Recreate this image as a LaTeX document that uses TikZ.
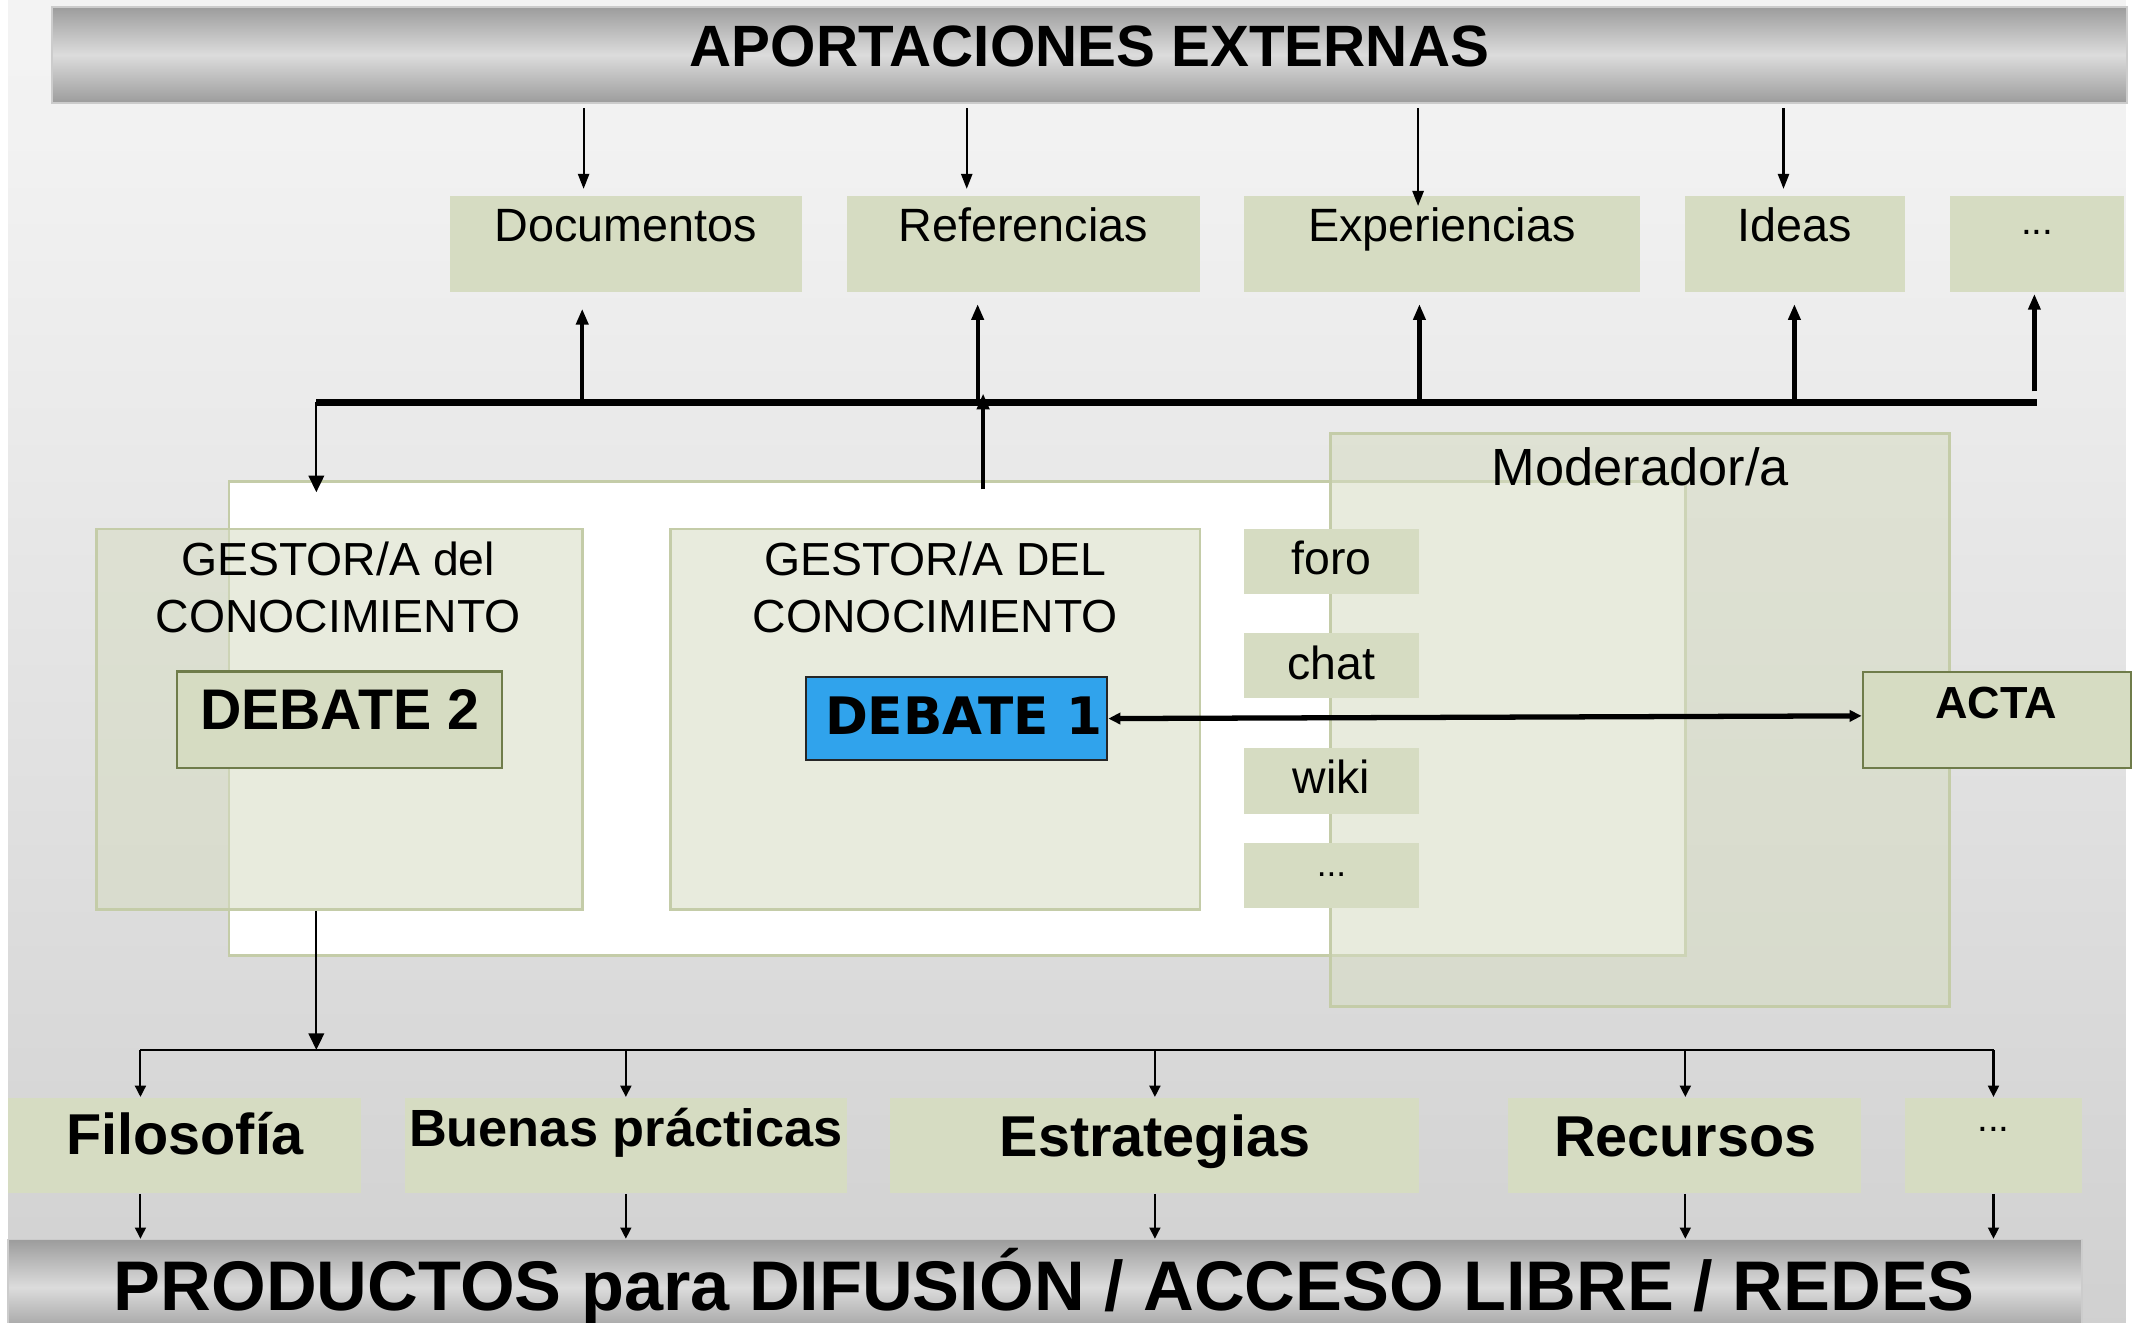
\documentclass[tikz,border=0pt]{standalone}
\usepackage{fontspec}
\setmainfont{Liberation Sans}
\newfontfamily\djv{DejaVu Sans}
\usetikzlibrary{fit,arrows.meta}
\definecolor{boxc}{HTML}{D6DCC2}
\definecolor{bordc}{HTML}{C4CCA8}
\definecolor{olivec}{HTML}{6F7C4A}
\definecolor{bluec}{HTML}{30A3EC}
\definecolor{mdark}{HTML}{5C5C5C}
\definecolor{mlight}{HTML}{DCDCDC}
\definecolor{bgA}{HTML}{F9F9F9}
\definecolor{bgB}{HTML}{F2F2F2}
\definecolor{bgC}{HTML}{E0E0E0}
\definecolor{bgD}{HTML}{CECECE}
\definecolor{bgE}{HTML}{BEBEBE}
\pgfdeclareverticalshading{metal}{100bp}{color(0bp)=(mdark); color(50bp)=(mlight); color(100bp)=(mdark)}
\pgfdeclareverticalshading{bgv}{100bp}{color(0bp)=(bgE); color(22bp)=(bgD); color(45bp)=(bgC); color(70bp)=(bgB); color(100bp)=(bgA)}
\newcommand\setfs[1]{\fontsize{#1pt}{#1pt}\selectfont}
\begin{document}
\begin{tikzpicture}[x=0.013635cm,y=-0.013635cm,
 txt/.style={inner sep=0pt,anchor=base,text=black},
 tbox/.style={fill=boxc,draw=none,inner sep=0pt},
 tlbox/.style={fill=boxc,fill opacity=0.55,draw=bordc,line width=0.8pt,inner sep=0pt},
 dbox/.style={fill=boxc,draw=olivec,line width=0.6pt,inner sep=0pt},
 bar/.style={shade,shading=metal,draw=black!20,line width=0.4pt,inner sep=0pt},
 thinarr/.style={line width=0.6pt,-{Triangle[length=4.3pt,width=3.2pt]}},
 smallarr/.style={line width=0.6pt,-{Triangle[length=3.2pt,width=3.1pt]}},
 bigarr/.style={line width=0.6pt,-{Triangle[length=4.7pt,width=4.4pt]}},
 thickarr/.style={line width=1.2pt,-{Triangle[length=4.5pt,width=3.4pt]}},
]
\useasboundingbox (0,0) rectangle (1568,970);
\clip (0,0) rectangle (1568,970);
\fill[white] (0,0) rectangle (1568,970);
\shade[shading=bgv] (6,0) rectangle (1559,970);

% bars
\node[bar, fit={(38,5) (1560,75.5)}] (topbar) {};
\node[txt] (toptxt) at (799,49) {\setfs{16.6}\bfseries APORTACIONES EXTERNAS};
\node[bar, fit={(6,909) (1527,979)}] (botbar) {};
\node[txt] (bottxt) at (766,961) {\setfs{20}\bfseries PRODUCTOS para DIFUSIÓN / ACCESO LIBRE / REDES};

% top boxes
\node[tbox, fit={(330,144) (588,214)}] (doc) {};
\node[tbox, fit={(621,144) (880,214)}] (ref) {};
\node[tbox, fit={(912,144) (1203,214)}] (exp) {};
\node[tbox, fit={(1236,144) (1397,214)}] (ideas) {};
\node[tbox, fit={(1430,144) (1558,214)}] (tdots) {};
\node[txt] (doct) at (459,177) {\setfs{13.3}Documentos};
\node[txt] (reft) at (750.5,177) {\setfs{13.3}Referencias};
\node[txt] (expt) at (1057.5,177) {\setfs{13.3}Experiencias};
\node[txt] (ideast) at (1316.5,177) {\setfs{13.3}Ideas};
\node[txt] (tdotst) at (1494,172) {\setfs{11}...};

% middle area
\node[fill=white, draw=bordc, line width=0.8pt, inner sep=0pt, fit={(168,353) (1236,701)}] (white) {};
\node[tlbox, fit={(70.5,388) (427,667)}] (gestL) {};
\node[tlbox, fit={(491.5,388) (880,667)}] (gestM) {};
\node[txt] (gLt1) at (248,422) {\setfs{13.2}GESTOR/A del};
\node[txt] (gLt2) at (248,464) {\setfs{13.2}CONOCIMIENTO};
\node[txt] (gMt1) at (686,422) {\setfs{13.2}GESTOR/A DEL};
\node[txt] (gMt2) at (686,464) {\setfs{13.2}CONOCIMIENTO};
\node[dbox, fit={(130,492.5) (368,563)}] (deb2) {};
\node[txt] (deb2t) at (249,535) {\setfs{16.3}\bfseries DEBATE 2};
\node[fill=bluec, draw=black!85, line width=0.7pt, inner sep=0pt, fit={(591,496.5) (812,557.5)}] (deb1) {};
\node[txt] (deb1t) at (707,539) {\djv\setfs{14.7}\bfseries DEBATE 1};
\node[tlbox, fit={(976,318) (1430,738)}] (moder) {};
\node[txt] (modert) at (1203,356) {\setfs{14.9}Moderador/a};
\node[tbox, fit={(912,388) (1041,436)}] (foro) {};
\node[tbox, fit={(912,464) (1041,512)}] (chat) {};
\node[tbox, fit={(912,548.5) (1041,597)}] (wiki) {};
\node[tbox, fit={(912,618) (1041,666)}] (mdots) {};
\node[txt] (forot) at (976.5,421) {\setfs{13.2}foro};
\node[txt] (chatt) at (976.5,498) {\setfs{13.2}chat};
\node[txt] (wikit) at (976.5,582) {\setfs{13.2}wiki};
\node[txt] (mdotst) at (976.5,643) {\setfs{10}...};
\node[dbox, fit={(1366,493) (1563,563)}] (acta) {};
\node[txt] (actat) at (1464,527) {\setfs{12.8}\bfseries ACTA};

% bottom boxes
\node[tbox, fit={(6,805) (265,875)}] (filo) {};
\node[tbox, fit={(297,805) (621,875)}] (buenas) {};
\node[tbox, fit={(653,805) (1041,875)}] (estr) {};
\node[tbox, fit={(1106,805) (1365,875)}] (recu) {};
\node[tbox, fit={(1397,805) (1527,875)}] (bdots) {};
\node[txt] (filot) at (135.5,847) {\setfs{16.4}\bfseries Filosofía};
\node[txt] (buenast) at (459,841) {\setfs{14.9}\bfseries Buenas prácticas};
\node[txt] (estrt) at (847,848) {\setfs{16.4}\bfseries Estrategias};
\node[txt] (recut) at (1236,848) {\setfs{16.4}\bfseries Recursos};
\node[txt] (bdotst) at (1462,830) {\setfs{11}...};

% coordinates
\coordinate (busL) at (232,295);
\coordinate (busR) at (1494,295);
\coordinate (d1) at (428,0);
\coordinate (d2) at (709,0);
\coordinate (d3) at (1040,0);
\coordinate (d4) at (1308,0);
\coordinate (u1) at (427,0);
\coordinate (u2) at (717,0);
\coordinate (u3) at (1041,0);
\coordinate (u4) at (1316,0);
\coordinate (u5) at (1492,0);
\coordinate (m1) at (721,0);
\coordinate (bbL) at (103,770);
\coordinate (bbR) at (1462,770);
\coordinate (bbM) at (232,770);
\coordinate (b2) at (459,770);
\coordinate (b3) at (847,770);
\coordinate (b4) at (1236,770);

% top arrows
\draw[thinarr, shorten <=1.35pt, shorten >=1.93pt] (topbar.south -| d1) -- (doc.north -| d1);
\draw[thinarr, shorten <=1.35pt, shorten >=1.93pt] (topbar.south -| d2) -- (ref.north -| d2);
\draw[thinarr, shorten <=1.35pt, shorten >=-2.94pt] (topbar.south -| d3) -- (exp.north -| d3);
\draw[thinarr, shorten <=1.35pt, shorten >=1.93pt] (topbar.south -| d4) -- (ideas.north -| d4);

% bus and up arrows
\draw[line width=1.9pt] (busL) -- (busR);
\draw[thickarr, shorten >=4.64pt] (busL -| u1) -- (doc.south -| u1);
\draw[thickarr, shorten >=3.3pt] (busL -| u2) -- (ref.south -| u2);
\draw[thickarr, shorten >=3.3pt] (busL -| u3) -- (exp.south -| u3);
\draw[thickarr, shorten >=3.3pt] (busL -| u4) -- (ideas.south -| u4);
\draw[thickarr, shorten <=3.1pt, shorten >=0.4pt] (busL -| u5) -- (tdots.south -| u5);
\draw[bigarr, shorten >=-3.5pt] (busL) -- (white.north -| busL);
\draw[thickarr, shorten <=-2.7pt, shorten >=-2.5pt] (white.north -| m1) -- (busL -| m1);

% debate 1 <-> acta
\draw[line width=1.5pt, {Triangle[length=3.4pt,width=3.2pt]}-{Triangle[length=3.4pt,width=3.2pt]}] (deb1.east) -- ([yshift=1.16pt]acta.west);

% bottom connectors
\draw[bigarr] (gestL.south -| bbM) -- (bbM);
\draw[line width=0.8pt] (bbL) -- (bbR);
\draw[smallarr] (bbL) -- (filo.north -| bbL);
\draw[smallarr] (b2) -- (buenas.north -| b2);
\draw[smallarr] (b3) -- (estr.north -| b3);
\draw[smallarr] (b4) -- (recu.north -| b4);
\draw[smallarr] (bbR) -- (bdots.north -| bbR);
\draw[smallarr] (filo.south -| bbL) -- (botbar.north -| bbL);
\draw[smallarr] (buenas.south -| b2) -- (botbar.north -| b2);
\draw[smallarr] (estr.south -| b3) -- (botbar.north -| b3);
\draw[smallarr] (recu.south -| b4) -- (botbar.north -| b4);
\draw[smallarr] (bdots.south -| bbR) -- (botbar.north -| bbR);
\end{tikzpicture}
\end{document}
